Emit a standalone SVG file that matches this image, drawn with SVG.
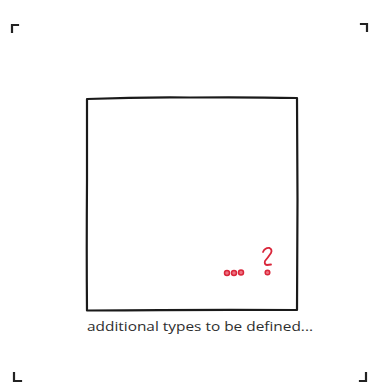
<svg xmlns="http://www.w3.org/2000/svg" width="371" height="385" viewBox="0 0 371 385">
<style>
.mark{fill:none;stroke:#222;stroke-width:2.2;stroke-linecap:square}
.box{fill:#fff;stroke:#1a1a1a;stroke-width:2.2;stroke-linejoin:round;stroke-linecap:round}
.red{fill:none;stroke:#d9263a;stroke-width:1.8;stroke-linecap:round;stroke-linejoin:round}
.dot{fill:#ee7382;stroke:#d9263a;stroke-width:1.5}
.lbl{font-family:"Open Sans","Liberation Sans",sans-serif;font-size:12px;fill:#2e2e2e}
</style>
<rect width="371" height="385" fill="#fff"/>
<g id="corners">
<path class="mark" d="M12 32 L12 25 L18 25"/>
<path class="mark" d="M361 24 L367 24 L367 31"/>
<path class="mark" d="M14 373 L14 381 L21 381"/>
<path class="mark" d="M366 373 L366 381 L360 381"/>
</g>
<g id="box">
<path class="box" d="M87 99 Q140 97 190 97.5 Q250 97 297 98 L297.5 200 Q297 260 297 310 Q200 309.5 87 310.5 Q86.5 250 87 180 Z"/>
<g id="more">
<circle class="dot" cx="227" cy="273" r="2.5"/>
<circle class="dot" cx="234" cy="273" r="2.5"/>
<circle class="dot" cx="241" cy="272.5" r="2.5"/>
<path class="red" d="M263 252 Q265 247.5 269.5 248 Q272.5 249.5 271 253 Q268 257.5 265 261 Q264 264.5 267 265 L271 264.5"/>
<circle class="dot" cx="267.5" cy="272.5" r="2.3"/>
</g>
<text class="lbl" x="87" y="331" textLength="226" lengthAdjust="spacingAndGlyphs">additional types to be defined...</text>
</g>
</svg>
